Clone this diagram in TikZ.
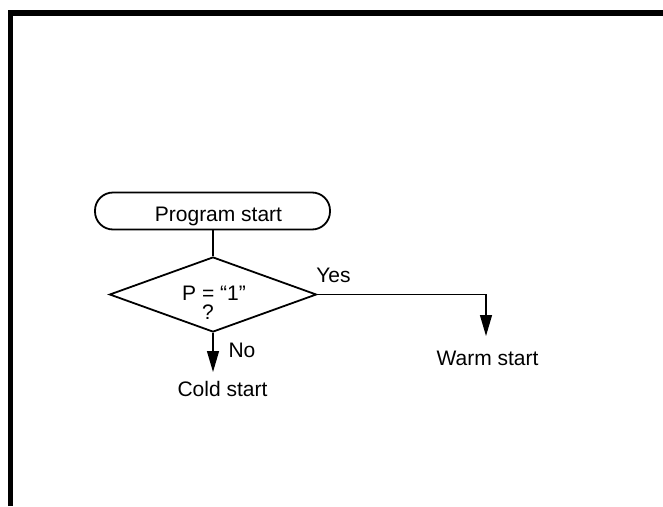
\documentclass[tikz,border=0pt]{standalone}
\usepackage{fontspec}
\setmainfont{Liberation Sans}
\usetikzlibrary{shapes.geometric,arrows.meta}
\begin{document}
\begin{tikzpicture}[x=1pt,y=-1pt,
  txt/.style={font=\fontsize{21}{25}\selectfont, inner sep=0pt, anchor=base},
  startbox/.style={draw, line width=1.8pt, rounded corners=18pt, minimum width=235pt, minimum height=37pt, inner sep=0pt},
  decision/.style={draw, diamond, line width=1.8pt, minimum width=207pt, minimum height=75pt, inner sep=0pt},
  conn/.style={line width=1.3pt},
  arr/.style={conn, -{Triangle[length=21pt,width=12pt]}}
]
\useasboundingbox (0,0) rectangle (663,506);
% frame
\draw[line width=5.5pt, line join=miter] (10.5,506) -- (10.5,13) -- (663,13);
% nodes
\node[startbox] (start) at (212.5,211) {};
\node[txt] (starttxt) at (218.5,221.5) {Program start};
\node[decision] (dia) at (213,294.5) {};
\node[txt] (ptxt) at (214,300) {P = “1”};
\node[txt] (qtxt) at (208,319) {?};
\node[txt] (yes) at (333.5,282) {Yes};
\node[txt] (no) at (242,357) {No};
\node[txt] (cold) at (222.5,396.5) {Cold start};
\node[txt] (warm) at (487.5,365) {Warm start};
\coordinate (coldtip) at (213,372);
\coordinate (warmtip) at (486,336);
% connectors
\draw[conn] (dia.north |- start.south) -- (dia.north);
\draw[arr] (dia.south) -- (coldtip);
\draw[arr] (dia.east) -| (warmtip);
\end{tikzpicture}
\end{document}
